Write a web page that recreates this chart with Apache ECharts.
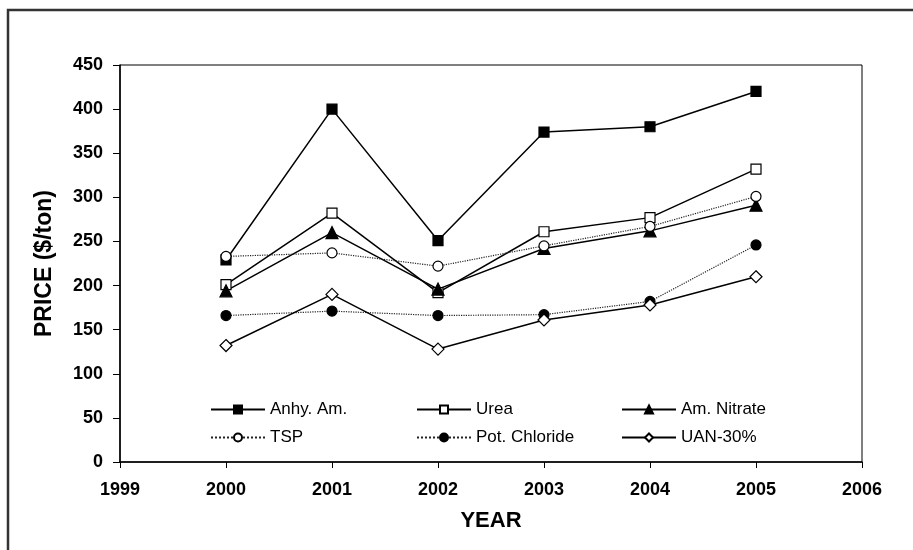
<!DOCTYPE html>
<html>
<head>
<meta charset="utf-8">
<script src="https://cdn.jsdelivr.net/npm/echarts@6/dist/echarts.min.js"></script>
<style>
    html, body { margin: 0; padding: 0; background: #fff; }
    #chart { width: 913px; height: 550px; }
</style>
</head>
<body>
<div id="chart"></div>
<script>
var years = [2000, 2001, 2002, 2003, 2004, 2005];
var anhyAm = [229, 400, 251, 374, 380, 420];
var urea = [201, 282, 192, 261, 277, 332];
var amNitrate = [194, 260, 196, 242, 262, 291];
var tsp = [233, 237, 222, 245, 267, 301];
var potChloride = [166, 171, 166, 167, 182, 246];
var uan30 = [132, 190, 128, 161, 178, 210];
var yTicks = [0, 50, 100, 150, 200, 250, 300, 350, 400, 450];

function pairs(vals) {
    var out = [];
    for (var i = 0; i < years.length; i++) {
        out.push([years[i], vals[i]]);
    }
    return out;
}

function makeSeries(name, vals, symbol, fill, dotted, size) {
    return {
        name: name,
        type: 'line',
        data: pairs(vals),
        symbol: symbol,
        symbolSize: size,
        showAllSymbol: true,
        lineStyle: {
            color: dotted ? '#222' : '#000',
            width: dotted ? 1.2 : 1.5,
            type: dotted ? 'dotted' : 'solid'
        },
        itemStyle: {
            color: fill,
            borderColor: '#000',
            borderWidth: 1.2
        },
        emphasis: { disabled: true },
        animation: false
    };
}

var legendBase = {
    orient: 'vertical',
    top: 396,
    itemWidth: 54,
    itemHeight: 10,
    itemGap: 11,
    itemTextGap: 5,
    textStyle: { fontFamily: 'Liberation Sans', fontSize: 17, color: '#000' },
    selectedMode: false
};

var myChart = echarts.init(document.getElementById('chart'));
var option = {
    backgroundColor: '#fff',
    animation: false,
    graphic: [{
        type: 'rect',
        shape: { x: 8, y: 10, width: 1000, height: 1000 },
        style: { fill: 'none', stroke: '#333', lineWidth: 2.5 }
    }],
    grid: {
        left: 120,
        right: 51,
        top: 65,
        bottom: 88,
        show: true,
        borderColor: '#000',
        borderWidth: 1
    },
    legend: [
        Object.assign({}, legendBase, { left: 205, data: ['Anhy. Am.', 'TSP'] }),
        Object.assign({}, legendBase, { left: 411, data: ['Urea', 'Pot. Chloride'] }),
        Object.assign({}, legendBase, { left: 616, data: ['Am. Nitrate', 'UAN-30%'] })
    ],
    xAxis: {
        type: 'value',
        min: 1999,
        max: 2006,
        interval: 1,
        name: 'YEAR',
        nameLocation: 'middle',
        nameGap: 48,
        nameTextStyle: { fontFamily: 'Liberation Sans', fontSize: 22, fontWeight: 'bold', color: '#000' },
        axisLine: { lineStyle: { color: '#000', width: 1.5 } },
        axisTick: { show: true, inside: false, length: 6, lineStyle: { color: '#000', width: 1 } },
        axisLabel: {
            margin: 19,
            fontFamily: 'Liberation Sans',
            fontSize: 18,
            fontWeight: 'bold',
            color: '#000',
            formatter: function (v) { return String(v); }
        },
        splitLine: { show: false }
    },
    yAxis: {
        type: 'value',
        min: yTicks[0],
        max: yTicks[yTicks.length - 1],
        interval: 50,
        name: 'PRICE ($/ton)',
        nameLocation: 'middle',
        nameGap: 64,
        nameTextStyle: { fontFamily: 'Liberation Sans', fontSize: 23, fontWeight: 'bold', color: '#000' },
        axisLine: { show: true, lineStyle: { color: '#000', width: 1.5 } },
        axisTick: { show: true, length: 7, lineStyle: { color: '#000', width: 1 } },
        axisLabel: {
            margin: 17,
            fontFamily: 'Liberation Sans',
            fontSize: 18,
            fontWeight: 'bold',
            color: '#000'
        },
        splitLine: { show: false }
    },
    series: [
        makeSeries('Anhy. Am.', anhyAm, 'rect', '#000', false, 10),
        makeSeries('Urea', urea, 'rect', '#fff', false, 10),
        makeSeries('Am. Nitrate', amNitrate, 'triangle', '#000', false, 12),
        makeSeries('TSP', tsp, 'circle', '#fff', true, 10),
        makeSeries('Pot. Chloride', potChloride, 'circle', '#000', true, 10),
        makeSeries('UAN-30%', uan30, 'diamond', '#fff', false, 12)
    ]
};
myChart.setOption(option);
</script>
</body>
</html>
